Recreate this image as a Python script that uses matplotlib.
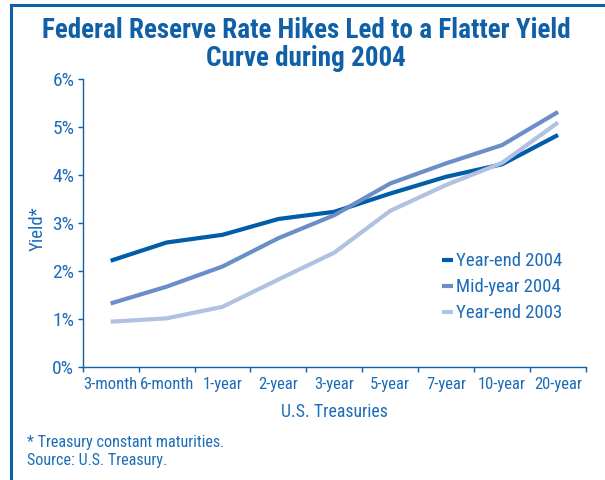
import matplotlib
matplotlib.use("Agg")
import matplotlib.pyplot as plt
from matplotlib.lines import Line2D
from matplotlib.ticker import FixedLocator, FuncFormatter

maturities = ["3-month", "6-month", "1-year", "2-year", "3-year",
              "5-year", "7-year", "10-year", "20-year"]
year_end_2004 = [2.22, 2.60, 2.76, 3.09, 3.24, 3.62, 3.97, 4.23, 4.84]
mid_year_2004 = [1.33, 1.68, 2.10, 2.69, 3.17, 3.83, 4.25, 4.63, 5.32]
year_end_2003 = [0.95, 1.02, 1.26, 1.83, 2.39, 3.26, 3.80, 4.26, 5.10]
series_labels = ["Year-end 2004", "Mid-year 2004", "Year-end 2003"]
y_ticks = [0, 1, 2, 3, 4, 5, 6]

FONT = ["Roboto Condensed", "Archivo Narrow", "Asap Condensed",
        "Encode Sans Condensed", "DejaVu Sans"]
plt.rcParams["font.family"] = FONT

TEXT = "#1c6cb8"
AXC = "#1060a8"
colors = ["#005da9", "#6a8ec8", "#b0c1e2"]

fig = plt.figure(figsize=(6.05, 4.80), dpi=100)
ax = fig.add_axes([82.7 / 605, 1 - 367.3 / 480, (586 - 82.7) / 605, (367.3 - 79.3) / 480])

x = list(range(len(maturities)))
for vals, lab, c in zip([year_end_2004, mid_year_2004, year_end_2003], series_labels, colors):
    ax.plot(x, vals, color=c, lw=3.0, label=lab, solid_capstyle="butt", solid_joinstyle="miter")

ax.set_xlim(-0.5, len(maturities) - 0.5)
ax.set_ylim(0, 6)
for s in ["top", "right"]:
    ax.spines[s].set_visible(False)
for s in ["left", "bottom"]:
    ax.spines[s].set_color(AXC)
    ax.spines[s].set_linewidth(1.0)

ax.set_yticks(y_ticks)
ax.yaxis.set_major_formatter(FuncFormatter(lambda v, p: f"{int(v)}%"))
ax.tick_params(axis="y", direction="out", length=3.5, width=1.0, color=AXC,
               labelcolor=TEXT, labelsize=14, pad=2.5)

ax.set_xticks(x)
ax.set_xticklabels(maturities)
ax.xaxis.set_minor_locator(FixedLocator([i - 0.5 for i in range(len(maturities) + 1)]))
ax.tick_params(axis="x", which="major", length=0, labelcolor=TEXT, labelsize=12, pad=7)
ax.tick_params(axis="x", which="minor", direction="out", length=3.5, width=1.0, color=AXC)

ax.set_xlabel("U.S. Treasuries", color=TEXT, fontsize=12.8, labelpad=8)
ax.set_ylabel("Yield*", color=TEXT, fontsize=13.5)
ax.yaxis.set_label_coords(-0.071, 0.48)

leg = ax.legend(loc="upper left", bbox_to_anchor=((434 - 82.7) / 503.3, (367.3 - 245) / 288),
                frameon=False, handlelength=0.6, handletextpad=0.2, labelspacing=0.42,
                fontsize=13.5, borderaxespad=0)
for t in leg.get_texts():
    t.set_color(TEXT)

fig.text(0.506, 1 - 31 / 480, "Federal Reserve Rate Hikes Led to a Flatter Yield",
         ha="center", va="center", fontsize=19.5, fontweight="bold", color=AXC)
fig.text(0.506, 1 - 59 / 480, "Curve during 2004",
         ha="center", va="center", fontsize=19.5, fontweight="bold", color=AXC)

fig.text(27 / 605, 1 - 442 / 480, "* Treasury constant maturities.",
         ha="left", va="center", fontsize=11.6, color=TEXT)
fig.text(27 / 605, 1 - 460 / 480, "Source: U.S. Treasury.",
         ha="left", va="center", fontsize=11.6, color=TEXT)

fig.add_artist(Line2D([11 / 605, 11 / 605], [0, 1 - 5 / 480], color=AXC, lw=2.2,
                      transform=fig.transFigure, solid_capstyle="projecting"))
fig.add_artist(Line2D([11 / 605, 1], [1 - 5 / 480, 1 - 5 / 480], color=AXC, lw=2.2,
                      transform=fig.transFigure, solid_capstyle="projecting"))

fig.savefig("out.png", dpi=100, facecolor="white")
